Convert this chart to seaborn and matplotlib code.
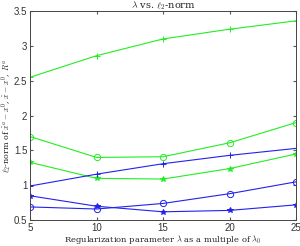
import pandas as pd
import seaborn as sns
import matplotlib.pyplot as plt
import numpy as np

lam = [5, 10, 15, 20, 25]
green_plus = [2.55, 2.86, 3.10, 3.24, 3.36]
green_circ = [1.70, 1.40, 1.41, 1.61, 1.90]
green_star = [1.33, 1.10, 1.09, 1.24, 1.45]
blue_plus = [0.99, 1.16, 1.31, 1.43, 1.53]
blue_circ = [0.69, 0.66, 0.74, 0.88, 1.05]
blue_star = [0.85, 0.70, 0.62, 0.64, 0.72]

series = [
    ('g+', green_plus, '#22ee22', '+'),
    ('go', green_circ, '#22ee22', 'o'),
    ('g*', green_star, '#22ee22', '*'),
    ('b+', blue_plus, '#2222ee', '+'),
    ('bo', blue_circ, '#2222ee', 'o'),
    ('b*', blue_star, '#2222ee', '*'),
]

sns.set_style('white')
plt.rcParams['mathtext.fontset'] = 'cm'
plt.rcParams['font.family'] = ['Liberation Sans', 'DejaVu Sans']

fig, ax = plt.subplots(figsize=(3.0, 2.46), dpi=100)
for name, vals, col, mk in series:
    df = pd.DataFrame({'lam': lam, 'val': vals})
    sns.lineplot(data=df, x='lam', y='val', ax=ax, color=col, marker=mk,
                 linewidth=0.8, markersize=4 if mk != 'o' else 4.5,
                 markerfacecolor='none' if mk == 'o' else col,
                 markeredgecolor=col, markeredgewidth=0.7)

ax.set_xlim(5, 25)
ax.set_ylim(0.5, 3.5)
ax.set_xticks([5, 10, 15, 20, 25])
ax.set_yticks([0.5, 1, 1.5, 2, 2.5, 3, 3.5])
ax.set_yticklabels(['0.5', '1', '1.5', '2', '2.5', '3', '3.5'])
ax.tick_params(axis='both', labelsize=7, direction='in', length=2, pad=2,
               top=True, right=True, bottom=True, left=True, color='#555555',
               labelcolor='#333333')
for s in ax.spines.values():
    s.set_linewidth(0.7)
    s.set_color('#444444')
ax.set_title(r'$\lambda$ vs. $\ell_2$-norm', fontsize=7, family='serif', pad=2)
ax.set_xlabel(r'Regularization parameter $\lambda$ as a multiple of $\lambda_0$',
              fontsize=6, family='serif', labelpad=0)
ax.set_ylabel(r'$\ell_2$-norm of $\hat{x}^a - x^0$, $\hat{x} - x^0$, $R^a$',
              fontsize=5.8, family='serif', labelpad=0)
fig.subplots_adjust(left=0.1, right=0.987, bottom=0.105, top=0.955)
fig.savefig('out.png', dpi=100)
